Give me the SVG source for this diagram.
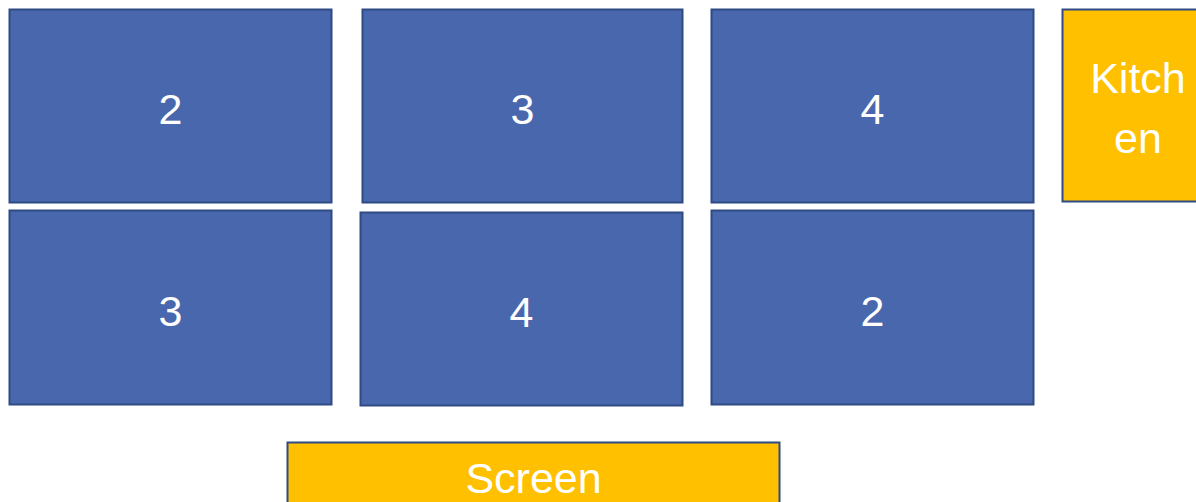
<svg xmlns="http://www.w3.org/2000/svg" width="1196" height="502" viewBox="0 0 1196 502">
<style>
.t{fill:#4967AD;stroke:#2F4B84;stroke-width:2}
.y{fill:#FFC000;stroke:#2F4B84;stroke-width:2}
text{font-family:"Liberation Sans",Arial,sans-serif;font-size:43px;fill:#FFFFFF;text-anchor:middle}
</style>
<rect width="1196" height="502" fill="#FFFFFF"/>
<g id="t1"><rect class="t" x="9.5" y="9.5" width="322" height="193"/><text x="170.5" y="124">2</text></g>
<g id="t2"><rect class="t" x="362.5" y="9.5" width="320" height="193"/><text x="522.5" y="124">3</text></g>
<g id="t3"><rect class="t" x="711.5" y="9.5" width="322" height="193"/><text x="872.5" y="124">4</text></g>
<g id="kitchen"><rect class="y" x="1062.5" y="9.5" width="140" height="192"/><text x="1138" y="93">Kitch</text><text x="1138" y="153">en</text></g>
<g id="t4"><rect class="t" x="9.5" y="210.5" width="322" height="194"/><text x="170.5" y="326">3</text></g>
<g id="t5"><rect class="t" x="360.5" y="212.5" width="322" height="193"/><text x="521.5" y="327">4</text></g>
<g id="t6"><rect class="t" x="711.5" y="210.5" width="322" height="194"/><text x="872.5" y="326">2</text></g>
<g id="screen"><rect class="y" x="287.5" y="442.5" width="492" height="70"/><text x="533.5" y="493">Screen</text></g>
<g id="connectors"></g>
</svg>
